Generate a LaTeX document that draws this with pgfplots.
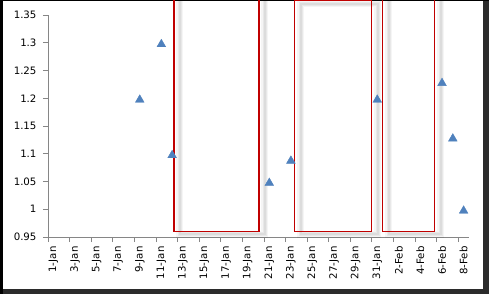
\documentclass[border=0pt]{standalone}
\usepackage{pgfplots}
\pgfplotsset{compat=1.18}
\usepackage{fontspec}
\setmainfont{DejaVu Sans}
\definecolor{ser}{HTML}{4F81BD}
\definecolor{boxred}{HTML}{C00000}
\definecolor{axgray}{HTML}{868686}
\definecolor{darkbg}{HTML}{2B2B2B}
\tikzset{
  shd/.style={black, xshift=6bp, yshift=-3bp},
}
\newcommand\shadowbox[3]{%
  \draw[shd, opacity=0.04, line width=7bp] (axis cs:#1,0.96) rectangle (axis cs:#2,#3);
  \draw[shd, opacity=0.05, line width=4bp] (axis cs:#1,0.96) rectangle (axis cs:#2,#3);
  \draw[shd, opacity=0.05, line width=2bp] (axis cs:#1,0.96) rectangle (axis cs:#2,#3);
}
\begin{document}
\begin{tikzpicture}[x=1bp,y=1bp]
\useasboundingbox (0,0) rectangle (489,294);
\fill[darkbg] (0,0) rectangle (489,294);
\fill[black] (0,0) rectangle (3,294);
\fill[black] (0,293) rectangle (489,294);
\fill[white] (3,5) rectangle (483,293);
\clip (3,5) rectangle (483,293);
\begin{axis}[
  at={(48bp,57bp)}, anchor=south west,
  scale only axis, width=421bp, height=222bp,
  xmin=-0.5, xmax=38.5, ymin=0.95, ymax=1.35,
  axis lines=left,
  axis line style={-, draw=axgray, line width=0.8bp},
  clip=false,
  tick align=outside,
  major tick length=5bp,
  every tick/.style={axgray, line width=0.8bp},
  ytick={0.95,1,1.05,1.1,1.15,1.2,1.25,1.3,1.35},
  yticklabels={0.95,1,1.05,1.1,1.15,1.2,1.25,1.3,1.35},
  yticklabel style={font=\fontsize{10.2bp}{12bp}\selectfont, xshift=-3bp},
  xtick={-0.5,1.5,...,37.5},
  xticklabels={},
  extra x ticks={0,2,4,6,8,10,12,14,16,18,20,22,24,26,28,30,32,34,36,38},
  extra x tick labels={1-Jan,3-Jan,5-Jan,7-Jan,9-Jan,11-Jan,13-Jan,15-Jan,17-Jan,19-Jan,21-Jan,23-Jan,25-Jan,27-Jan,29-Jan,31-Jan,2-Feb,4-Feb,6-Feb,8-Feb},
  extra x tick style={major tick length=0pt, xticklabel shift=6bp, xticklabel style={rotate=90, anchor=east, font=\fontsize{10.2bp}{12bp}\selectfont}},
]
\shadowbox{11.17}{19.04}{1.39}
\shadowbox{22.37}{29.5}{1.376}
\shadowbox{30.5}{35.33}{1.39}
\draw[boxred, line width=1.2bp] (axis cs:11.17,0.96) rectangle (axis cs:19.04,1.39);
\draw[boxred, line width=1.2bp] (axis cs:22.37,0.96) rectangle (axis cs:29.5,1.376);
\draw[boxred, line width=1.2bp] (axis cs:30.5,0.96) rectangle (axis cs:35.33,1.39);
\addplot[only marks, mark=triangle*, mark size=5bp, color=ser, mark options={yshift=-1.5bp}] coordinates {
  (8,1.2) (10,1.3) (11,1.1) (20,1.05) (22,1.09) (30,1.2) (36,1.23) (37,1.13) (38,1.0)
};
\end{axis}
\end{tikzpicture}
\end{document}
